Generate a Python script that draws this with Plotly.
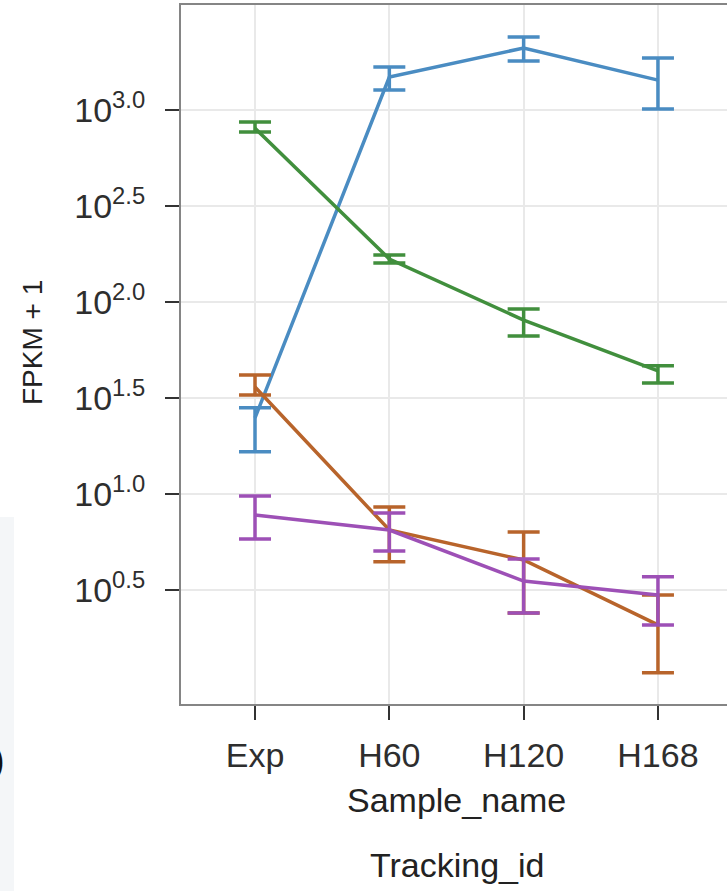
import plotly.graph_objects as go

# Samples along the x axis
samples = ["Exp", "H60", "H120", "H168"]

# FPKM + 1 per gene: mean, lower and upper confidence bounds
blue_mean = [24.9, 1486, 2104, 1432]
blue_lo = [16.6, 1271, 1799, 1012]
blue_hi = [28.1, 1675, 2399, 1866]

green_mean = [803.5, 167.5, 80.5, 43.8]
green_lo = [767.4, 159.6, 66.5, 37.8]
green_hi = [866.0, 175.8, 92.0, 46.5]

orange_mean = [36.06, 6.49, 4.53, 2.08]
orange_lo = [32.81, 4.43, 2.40, 1.17]
orange_hi = [41.69, 8.55, 6.34, 2.98]

purple_mean = [7.78, 6.49, 3.52, 2.98]
purple_lo = [5.83, 5.05, 2.40, 2.08]
purple_hi = [9.77, 7.96, 4.58, 3.70]

# y tick positions (log10 of FPKM + 1) and their labels
ytick_exp = [0.5, 1.0, 1.5, 2.0, 2.5, 3.0]
ytick_text = ["10<sup>0.5</sup>", "10<sup>1.0</sup>", "10<sup>1.5</sup>",
              "10<sup>2.0</sup>", "10<sup>2.5</sup>", "10<sup>3.0</sup>"]

series = [
    ("blue", blue_mean, blue_lo, blue_hi, "#4a8cc2"),
    ("green", green_mean, green_lo, green_hi, "#418f3d"),
    ("orange", orange_mean, orange_lo, orange_hi, "#b8642b"),
    ("purple", purple_mean, purple_lo, purple_hi, "#9d50b6"),
]

FONT = "Liberation Sans, Arial, Helvetica, sans-serif"
W, H = 727, 891
L, T, B = 181, 5, 187

fig = go.Figure()
for name, m, lo, hi, col in series:
    fig.add_trace(go.Scatter(
        x=samples, y=m, mode="lines", name=name,
        line=dict(color=col, width=3.5),
        error_y=dict(type="data", symmetric=False,
                     array=[h - v for h, v in zip(hi, m)],
                     arrayminus=[v - l for v, l in zip(m, lo)],
                     color=col, thickness=3.5, width=16),
        showlegend=False,
    ))

fig.update_layout(
    width=W, height=H,
    margin=dict(l=L, r=0, t=T, b=B, pad=0),
    paper_bgcolor="white", plot_bgcolor="white",
    font=dict(family=FONT, color="#333333"),
)

fig.update_xaxes(
    type="category", range=[-0.551, 3.514],
    showgrid=True, gridcolor="#e9e9e9", gridwidth=1.5,
    showline=True, linecolor="#858585", linewidth=2, mirror=True,
    ticks="outside", ticklen=14, tickwidth=2, tickcolor="#333333",
    tickfont=dict(size=34, color="#2e2e2e", family=FONT),
    ticklabelstandoff=6,
    zeroline=False,
)

fig.update_yaxes(
    type="log", range=[-0.094, 3.547],
    tickvals=[10 ** e for e in ytick_exp], ticktext=ytick_text,
    showgrid=True, gridcolor="#e9e9e9", gridwidth=1.5,
    showline=True, linecolor="#858585", linewidth=2, mirror=False,
    ticks="outside", ticklen=14, tickwidth=2, tickcolor="#333333",
    tickfont=dict(size=34, color="#2e2e2e", family=FONT),
    ticklabelstandoff=13,
    zeroline=False,
)

pw = W - L
ph = H - T - B


def px_x(p):
    return (p - L) / pw


def px_y(p):
    return (H - B - p) / ph


# axis and legend titles
fig.add_annotation(text="Sample_name", xref="paper", yref="paper",
                   x=px_x(456.5), y=px_y(800), showarrow=False,
                   xanchor="center", yanchor="middle",
                   font=dict(size=34, color="#222222", family=FONT))
fig.add_annotation(text="Tracking_id", xref="paper", yref="paper",
                   x=px_x(456.5), y=px_y(865), showarrow=False,
                   xanchor="center", yanchor="middle",
                   font=dict(size=34, color="#222222", family=FONT))
fig.add_annotation(text="FPKM + 1", xref="paper", yref="paper",
                   x=px_x(32), y=px_y(343), showarrow=False,
                   textangle=-90, xanchor="center", yanchor="middle",
                   font=dict(size=28, color="#222222", family=FONT))

# neighbouring panel edge on the left
fig.add_shape(type="rect", xref="paper", yref="paper",
              x0=px_x(-2), x1=px_x(14), y0=px_y(893), y1=px_y(517),
              fillcolor="#f4f6f8", line=dict(width=0), layer="below")
fig.add_annotation(text=")", xref="paper", yref="paper",
                   x=px_x(7), y=px_y(760), showarrow=False,
                   xanchor="right", yanchor="middle",
                   font=dict(size=38, color="#111111", family=FONT))

fig.write_html("out.html")
